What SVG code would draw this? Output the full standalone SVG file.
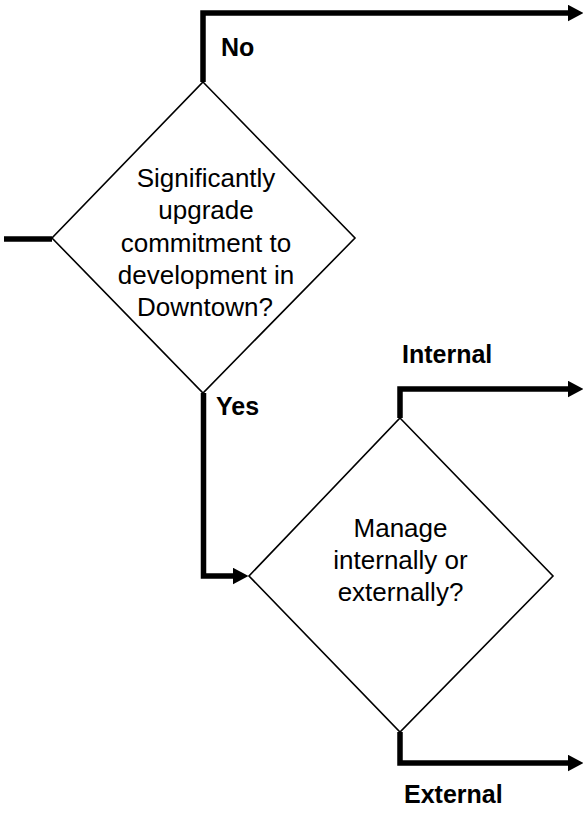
<svg xmlns="http://www.w3.org/2000/svg" width="583" height="815" viewBox="0 0 583 815">
<style>
.shape{fill:#fff;stroke:#000;stroke-width:1.6}
.t{font-family:"Liberation Sans",Arial,sans-serif;font-size:26px;fill:#000;text-anchor:middle}
.lbl{font-family:"Liberation Sans",Arial,sans-serif;font-size:25px;font-weight:bold;fill:#000}
.conn{fill:none;stroke:#000;stroke-width:5.5;stroke-linejoin:miter;stroke-linecap:butt}
</style>
<defs>
<marker id="arr" viewBox="0 0 16 17" refX="0.5" refY="8.5" markerWidth="16" markerHeight="17" markerUnits="userSpaceOnUse" orient="auto">
<path d="M0,0 L16,8.5 L0,17 z" fill="#000"/>
</marker>
</defs>
<rect width="583" height="815" fill="#fff"/>
<g id="connectors">
<path class="conn" d="M203,82 V13 H568" marker-end="url(#arr)"/>
<path class="conn" d="M4,239 H52"/>
<path class="conn" d="M203.5,393 V576 H233" marker-end="url(#arr)"/>
<path class="conn" d="M400,418 V389 H568" marker-end="url(#arr)"/>
<path class="conn" d="M400,732 V763 H568" marker-end="url(#arr)"/>
</g>
<g id="decision1">
<polygon class="shape" points="203,82 355,238 203,393 52,238"/>
<text class="t" x="206" y="187">Significantly</text>
<text class="t" x="206" y="219">upgrade</text>
<text class="t" x="206" y="251.5">commitment to</text>
<text class="t" x="206" y="283.5">development in</text>
<text class="t" x="205" y="316">Downtown?</text>
</g>
<g id="decision2">
<polygon class="shape" points="400,418 553,576 400,732 249,576"/>
<text class="t" x="400.5" y="537">Manage</text>
<text class="t" x="400.5" y="569">internally or</text>
<text class="t" x="400.5" y="601">externally?</text>
</g>
<g id="labels">
<text class="lbl" x="221" y="56">No</text>
<text class="lbl" x="216" y="415">Yes</text>
<text class="lbl" x="402" y="363">Internal</text>
<text class="lbl" x="404" y="803">External</text>
</g>
</svg>
